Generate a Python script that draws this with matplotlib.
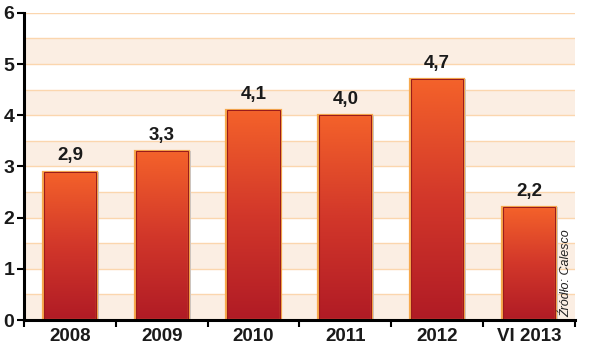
import matplotlib
matplotlib.use('Agg')
import matplotlib.pyplot as plt
import numpy as np
from matplotlib.colors import LinearSegmentedColormap

plt.rcParams['font.family'] = ['Liberation Sans', 'DejaVu Sans']

categories = ['2008', '2009', '2010', '2011', '2012', 'VI 2013']
values = [2.9, 3.3, 4.1, 4.0, 4.7, 2.2]
value_labels = ['2,9', '3,3', '4,1', '4,0', '4,7', '2,2']
y_ticks = [0, 1, 2, 3, 4, 5, 6]

fig = plt.figure(figsize=(6, 3.58), dpi=100)
ax = fig.add_axes([0.04, 0.106, 0.918, 0.858])

x = np.arange(len(categories))

# shaded bands every other half unit
for lo in np.arange(0, 6, 1.0):
    ax.axhspan(lo, lo + 0.5, color='#fbeee3', zorder=0, lw=0)
for g in np.arange(0.5, 6.01, 0.5):
    ax.axhline(g, color='#fbd6ae', lw=1.0, zorder=1)

cmap = LinearSegmentedColormap.from_list('bar', ['#b01b25', '#d2372a', '#f4622a'])
grad = np.linspace(0, 1, 256).reshape(-1, 1)
w = 0.59
for xi, v, lab in zip(x, values, value_labels):
    # shadow on the right
    ax.bar(xi + 0.02, v, width=w, color='#c8c8cc', zorder=2, lw=0)
    bars = ax.bar(xi, v, width=w, color='none', edgecolor='#f7a94d', lw=1.6, zorder=4)
    im = ax.imshow(grad, extent=[xi - w / 2, xi + w / 2, 0, v], origin='lower',
                   cmap=cmap, aspect='auto', zorder=3)
    im.set_clip_path(bars[0])
    ax.bar(xi, v, width=w - 0.02, color='none', edgecolor='#9b1b1b', lw=0.8, zorder=5)
    ax.text(xi, v + 0.14, lab, ha='center', va='bottom', fontsize=13.5,
            fontweight='bold', color='#1a1a1a')

ax.set_aspect('auto')
ax.set_xlim(-0.5, len(categories) - 0.5)
ax.set_ylim(0, 6)

ax.set_xticks(x)
ax.set_xticklabels(categories, fontsize=13.5, fontweight='bold', color='#1a1a1a')
ax.set_xticks(np.arange(-0.5, len(categories), 1.0), minor=True)
ax.tick_params(axis='x', which='major', length=0, pad=6)
ax.tick_params(axis='x', which='minor', length=5, width=1.5, direction='out')
ax.set_yticks(y_ticks)
ax.set_yticklabels([str(t) for t in y_ticks], fontsize=14, fontweight='bold', color='#1a1a1a')
ax.tick_params(axis='y', length=5, width=1.5, pad=2)

for s in ['top', 'right']:
    ax.spines[s].set_visible(False)
for s in ['left', 'bottom']:
    ax.spines[s].set_linewidth(2.2)
    ax.spines[s].set_zorder(6)

fig.text(0.943, 0.115, 'Źródło: Calesco', rotation=90, ha='center', va='bottom',
         fontsize=9, style='italic', color='#222222')

fig.savefig('out.png', dpi=100)
